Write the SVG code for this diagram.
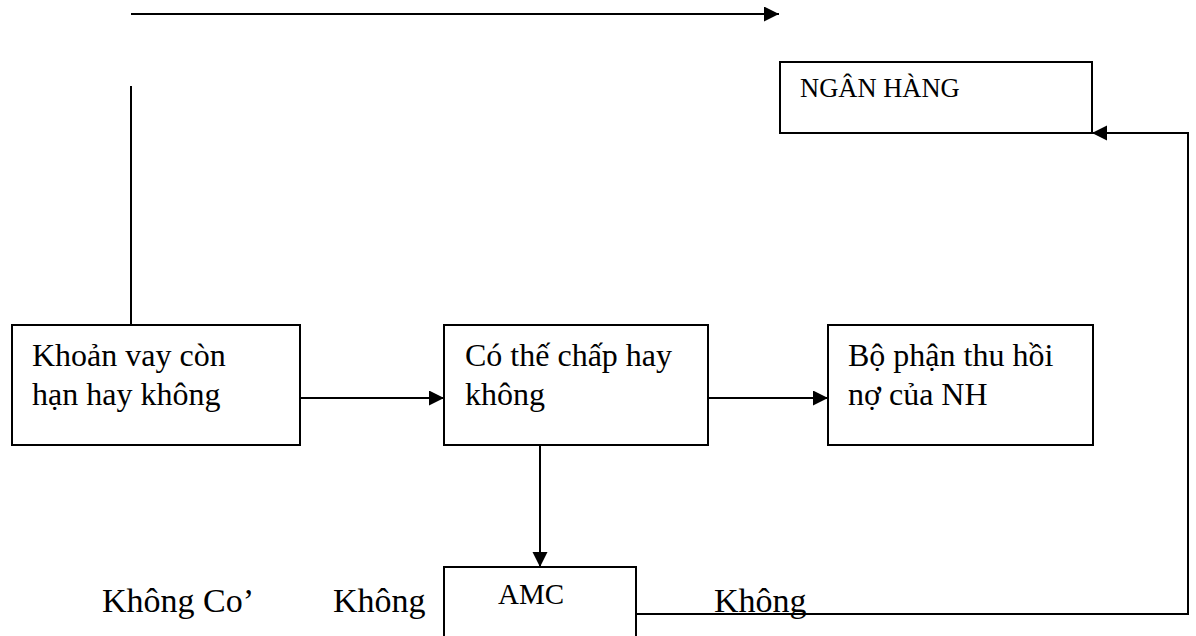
<svg xmlns="http://www.w3.org/2000/svg" width="1196" height="636" viewBox="0 0 1196 636">
<style>
.box{fill:#fff;stroke:#000;stroke-width:2}
.t{font-family:"Liberation Serif","Times New Roman",serif;font-size:32px;fill:#000}
.b{font-family:"Liberation Serif","Times New Roman",serif;font-size:34px;fill:#000}
.s{font-family:"Liberation Serif","Times New Roman",serif;font-size:26.5px;fill:#000}
.a{font-family:"Liberation Serif","Times New Roman",serif;font-size:29px;fill:#000}
.c{fill:none;stroke:#000;stroke-width:2}
</style>
<defs>
<marker id="ah" markerUnits="userSpaceOnUse" markerWidth="18" markerHeight="18" refX="15" refY="7.5" orient="auto">
<path d="M0,0 L15,7.5 L0,15 Z" fill="#000"/>
</marker>
</defs>
<rect width="1196" height="636" fill="#fff"/>
<g id="connectors">
<path class="c" d="M131,14 H779" marker-end="url(#ah)"/>
<path class="c" d="M131,86 V325"/>
<path class="c" d="M300,398 H444" marker-end="url(#ah)"/>
<path class="c" d="M708,398 H828" marker-end="url(#ah)"/>
<path class="c" d="M540,445 V567" marker-end="url(#ah)"/>
<path class="c" d="M636,614 H1188 V133 H1092" marker-end="url(#ah)"/>
</g>
<g id="node-nganhang">
<rect class="box" x="780" y="62" width="312" height="71"/>
<text class="s" x="800" y="97">NGÂN HÀNG</text>
</g>
<g id="node-khoanvay">
<rect class="box" x="12" y="325" width="288" height="120"/>
<text class="t" x="32" y="366">Khoản vay còn</text>
<text class="t" x="32" y="405">hạn hay không</text>
</g>
<g id="node-thechap">
<rect class="box" x="444" y="325" width="264" height="120"/>
<text class="t" x="465" y="366">Có thế chấp hay</text>
<text class="t" x="465" y="405">không</text>
</g>
<g id="node-bophan">
<rect class="box" x="828" y="325" width="265" height="120"/>
<text class="t" x="848" y="366">Bộ phận thu hồi</text>
<text class="t" x="848" y="405">nợ của NH</text>
</g>
<g id="node-amc">
<rect class="box" x="444" y="567" width="192" height="100"/>
<text class="a" x="498" y="604">AMC</text>
</g>
<g id="labels">
<text class="b" x="102" y="612">Không Co’</text>
<text class="b" x="333" y="612">Không</text>
<text class="b" x="714" y="612">Không</text>
</g>
</svg>
